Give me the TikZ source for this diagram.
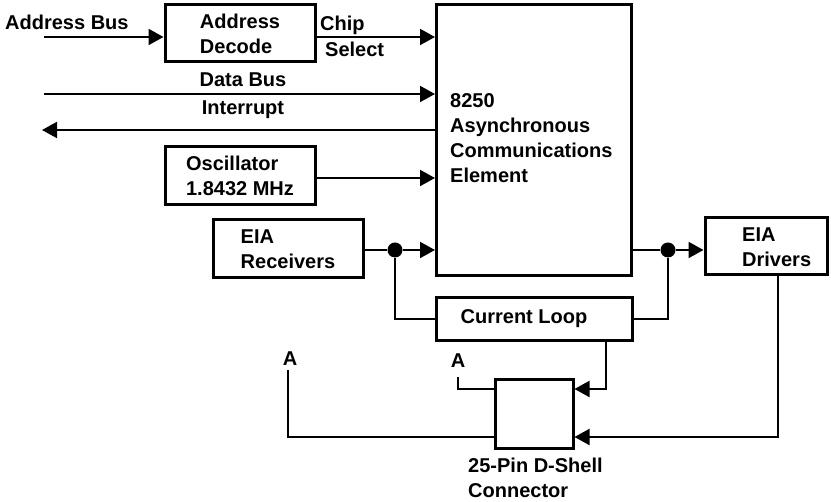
\documentclass[tikz,border=0pt]{standalone}
\usepackage{fontspec}
\setmainfont{Liberation Sans}
\usetikzlibrary{arrows.meta,calc}
\begin{document}
\begin{tikzpicture}[x=1pt,y=-1pt,
  every node/.style={font=\fontsize{20}{25}\selectfont\bfseries, inner sep=0pt},
  box/.style={draw, line width=3pt, align=left},
  wire/.style={line width=2pt},
  arr/.style={wire, -{Triangle[length=15pt,width=16pt]}},
  jdot/.style={circle, fill, minimum size=15pt, inner sep=0pt}]
\useasboundingbox (0,0) rectangle (831,502);
% boxes
\node[box, minimum width=150pt, minimum height=57pt] (ad) at (240,33.5) {Address\\Decode};
\node[box, minimum width=150pt, minimum height=58pt] (osc) at (240,176) {Oscillator\\1.8432 MHz};
\node[box, minimum width=150pt, minimum height=58pt] (rx) at (288,249) {EIA\\Receivers};
\node[box, minimum width=195pt, minimum height=271pt] (main) at (534,140.5) {};
\node[anchor=north west, align=left] (maintxt) at (450,93) {8250\\Asynchronous\\Communications\\Element};
\node[box, minimum width=122pt, minimum height=57pt] (dr) at (766,246.5) {};
\node[anchor=west, align=left] (drtxt) at (742,247) {EIA\\Drivers};
\node[box, minimum width=196pt, minimum height=43pt] (cl) at (534,319.5) {};
\node (cltxt) at (524,319) {Current Loop};
\node[box, minimum width=78pt, minimum height=69pt] (ds) at (534,414.5) {};
\node[anchor=north west, align=left] (dstxt) at (468,458) {25-Pin D-Shell\\Connector};
% labels
\node[anchor=base west] (abtxt) at (5,30) {Address Bus};
\node[anchor=base west] (chip) at (320,31) {Chip};
\node[anchor=base west] (sel) at (325,57) {Select};
\node[anchor=base] (dbtxt) at (243,87) {Data Bus};
\node[anchor=base] (irtxt) at (243,115) {Interrupt};
% free ends
\coordinate (abus) at (44,37);
\coordinate (dbus) at (44,94);
\coordinate (irq) at (42,130);
\coordinate (c1) at (606,389);
\coordinate (c2) at (778,437);
\coordinate (aR) at (458,377);
\coordinate (aL) at (288,370);
\node[anchor=south] (aRt) at ($(aR)+(0,-9)$) {A};
\node[anchor=south] (aLt) at ($(aL)+(2,-4)$) {A};
% junction dots
\node[jdot] (dotL) at (395,250) {};
\node[jdot] (dotR) at (668,250) {};
% connectors
\draw[arr] (abus) -- (ad.west |- abus);
\draw[arr] (ad.east |- abus) -- (main.west |- abus);
\draw[arr] (dbus) -- (main.west |- dbus);
\draw[arr] (main.west |- irq) -- (irq);
\draw[arr] (osc.east |- 0,178) -- (main.west |- 0,178);
\draw[wire] (rx.east |- dotL) -- (dotL);
\draw[arr] (dotL) -- (main.west |- dotL);
\draw[wire] (dotL) -- (dotL |- cl.west) -- (cl.west);
\draw[wire] (main.east |- dotR) -- (dotR);
\draw[arr] (dotR) -- (dr.west |- dotR);
\draw[wire] (dotR) -- (dotR |- cl.east) -- (cl.east);
\draw[arr] (cl.south -| c1) -- (c1) -- (ds.east |- c1);
\draw[arr] (dr.south -| c2) -- (c2) -- (ds.east |- c2);
\draw[wire] (ds.west |- c1) -- (aR |- c1) -- (aR);
\draw[wire] (ds.west |- c2) -- (aL |- c2) -- (aL);
\end{tikzpicture}
\end{document}
